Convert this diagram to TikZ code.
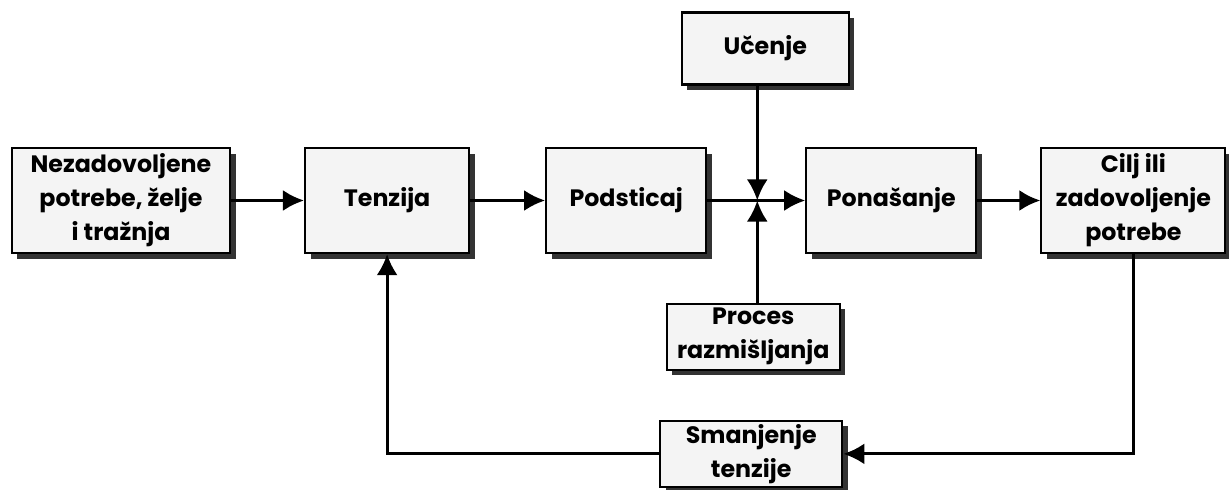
\documentclass[tikz,border=0pt]{standalone}
\usepackage{fontspec}
\setmainfont{Poppins}
\usetikzlibrary{arrows.meta,positioning,shadows}

\begin{document}
\begin{tikzpicture}
\tikzset{
    box/.style={
           rectangle,
           draw=black,
           line width=1.2pt,
           fill=gray!9,
           align=center,
           minimum height=2.1cm,
           inner sep=2pt,
           font=\bfseries\fontsize{13.5}{19.4}\selectfont,
           general shadow={fill=black!80,shadow xshift=0.11cm,shadow yshift=-0.11cm}},
    smallbox/.style={
           box,
           minimum height=1.35cm},
    % Define arrow style
    arrow/.style= {
           -{Latex[length=12pt,width=12pt]},
           line width=1.8pt
    }
}
\useasboundingbox (0,0) rectangle (24.58,-9.78);
\node[box,minimum width=4.36cm] (nezad) at (2.42,-4.01) {Nezadovoljene\\potrebe, želje\\i tražnja};
\node[box,minimum width=3.28cm,right =1.46cm of nezad] (tenzija) {Tenzija};
\node[box,minimum width=3.2cm,right =1.5cm of tenzija] (podsticaj) {Podsticaj};
\coordinate[right =1cm of podsticaj] (spoj);
\node[box,minimum width=3.4cm,right =1.96cm of podsticaj] (ponasanje) {Ponašanje};
\node[box,minimum width=3.68cm,right =1.26cm of ponasanje] (cilj) {Cilj ili\\zadovoljenje\\potrebe};
\node[smallbox,minimum width=3.34cm,minimum height=1.44cm,above =2.3cm of spoj,xshift=0.16cm] (ucenje) {Učenje};
\node[smallbox,minimum width=3.46cm,minimum height=1.32cm,below =2.04cm of spoj,xshift=-0.08cm] (proces) {Proces\\razmišljanja};
\node[smallbox,minimum width=3.64cm,minimum height=1.26cm,below =0.98cm of proces,xshift=-0.04cm] (smanjenje) {Smanjenje\\tenzije};
\draw[arrow] (nezad) -- (tenzija);
\draw[arrow] (tenzija) -- (podsticaj);
\draw[arrow] (podsticaj) -- (ponasanje);
\draw[arrow] (ucenje.south -| spoj) -- (spoj);
\draw[arrow] (proces.north -| spoj) -- (spoj);
\draw[arrow] (ponasanje) -- (cilj);
\draw[arrow] (cilj.south) |- (smanjenje.east);
\draw[arrow] (smanjenje.west) -| (tenzija.south);
\end{tikzpicture}
\end{document}
